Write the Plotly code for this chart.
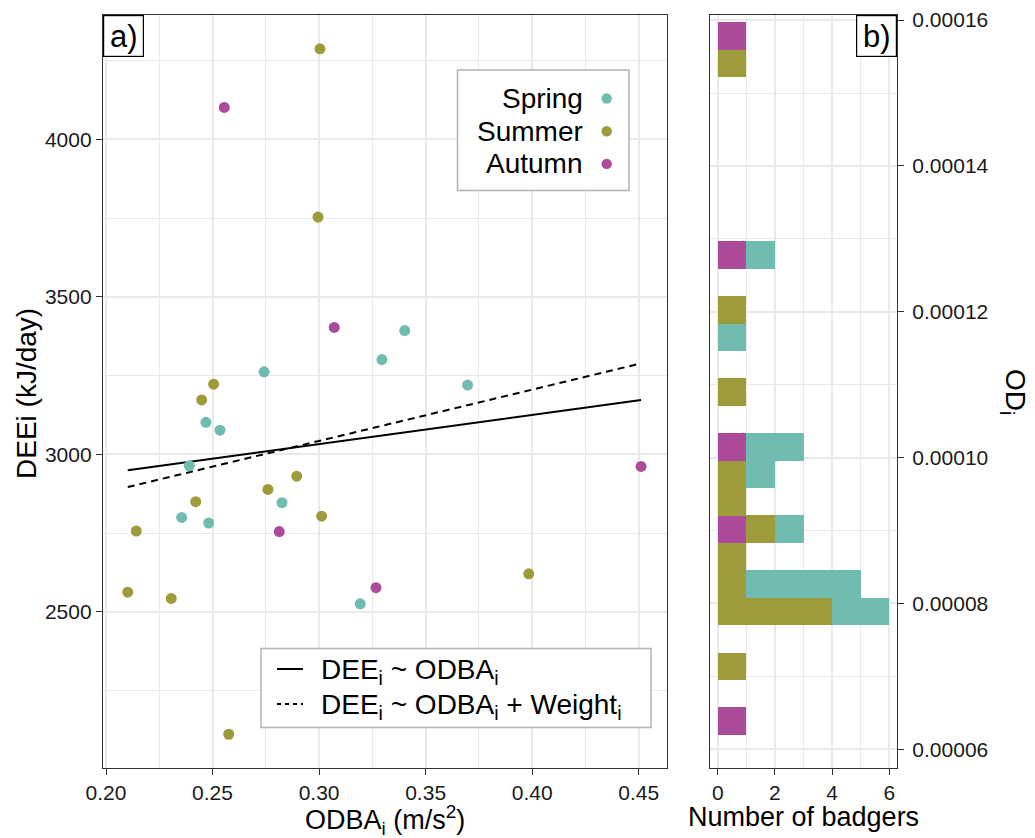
import plotly.graph_objects as go

W, H = 1035, 838
FONT = "Liberation Sans, Arial, Helvetica, sans-serif"

# ---------------- data ----------------
seasons = ["Spring", "Summer", "Autumn"]
season_colors = ["#70bcb0", "#9d9b3b", "#ac4a9b"]

spring_odba = [0.3402, 0.3295, 0.2742, 0.3697, 0.2469, 0.2535, 0.2391, 0.2826, 0.2355, 0.2482, 0.3193]
spring_dee = [3393, 3301, 3262, 3220, 3102, 3077, 2964, 2847, 2800, 2782, 2526]
summer_odba = [0.3004, 0.2995, 0.2505, 0.2449, 0.2895, 0.2760, 0.2421, 0.3012, 0.2142, 0.3984, 0.2102, 0.2306, 0.2576]
summer_dee = [4287, 3753, 3223, 3173, 2931, 2889, 2850, 2804, 2757, 2621, 2563, 2543, 2112]
autumn_odba = [0.2555, 0.3071, 0.2813, 0.4511, 0.3267]
autumn_dee = [4101, 3403, 2755, 2962, 2577]

fit_labels = ["DEE<sub>i</sub> ~ ODBA<sub>i</sub>",
              "DEE<sub>i</sub> ~ ODBA<sub>i</sub> + Weight<sub>i</sub>"]
fit_intercepts = [2755, 2554]
fit_slopes = [926, 1629]
fit_dashes = ["solid", "7px,5px"]

od_bin_centers = [0.00006388, 0.00007140, 0.00007891, 0.00008267, 0.00008643,
                  0.00009019, 0.00009394, 0.00009770, 0.00010146, 0.00010898,
                  0.00011649, 0.00012025, 0.00012777, 0.00015407, 0.00015783]
od_bin_width = 3.758e-6
spring_counts = [0, 0, 2, 4, 0, 1, 0, 1, 2, 0, 1, 0, 1, 0, 0]
summer_counts = [0, 1, 4, 1, 1, 1, 1, 1, 0, 1, 0, 1, 0, 1, 0]
autumn_counts = [1, 0, 0, 0, 0, 1, 0, 0, 1, 0, 0, 0, 1, 0, 1]

odba_ticks = [0.20, 0.25, 0.30, 0.35, 0.40, 0.45]
dee_ticks = [2500, 3000, 3500, 4000]
count_ticks = [0, 2, 4, 6]
od_ticks = [0.00006, 0.00008, 0.00010, 0.00012, 0.00014, 0.00016]

# ---------------- helpers ----------------
def px(x):
    return x / W

def py(y):
    return 1 - y / H

fig = go.Figure()

odba_sets = [spring_odba, summer_odba, autumn_odba]
dee_sets = [spring_dee, summer_dee, autumn_dee]

# regression lines
all_x = spring_odba + summer_odba + autumn_odba
x_lo, x_hi = min(all_x), max(all_x)
for b0, b1, d in zip(fit_intercepts, fit_slopes, fit_dashes):
    fig.add_trace(go.Scatter(
        x=[x_lo, x_hi], y=[b0 + b1 * x_lo, b0 + b1 * x_hi],
        mode="lines", line=dict(color="black", width=2, dash=d),
        xaxis="x", yaxis="y", showlegend=False, hoverinfo="skip"))

for name, col, xs, ys in zip(seasons, season_colors, odba_sets, dee_sets):
    fig.add_trace(go.Scatter(
        x=xs, y=ys, mode="markers", name=name,
        marker=dict(color=col, size=11, line=dict(width=0)),
        xaxis="x", yaxis="y", showlegend=False))

# stacked histogram (Autumn at base, then Summer, then Spring)
for name, col, counts in [("Autumn", season_colors[2], autumn_counts),
                          ("Summer", season_colors[1], summer_counts),
                          ("Spring", season_colors[0], spring_counts)]:
    fig.add_trace(go.Bar(
        x=counts, y=od_bin_centers, orientation="h", name=name,
        width=[od_bin_width] * len(od_bin_centers),
        marker=dict(color=col, line=dict(width=0)),
        xaxis="x2", yaxis="y2", showlegend=False))

GRID = "#e9e9e9"
axis_common = dict(
    automargin=False,
    showline=True, mirror=True, linecolor="#333333", linewidth=1.3,
    ticks="outside", ticklen=6, tickwidth=1.3, tickcolor="#333333",
    showgrid=True, gridcolor=GRID, gridwidth=2,
    zeroline=False,
    tickfont=dict(family=FONT, size=21, color="#1a1a1a"),
)
minor_common = dict(showgrid=True, gridcolor=GRID, gridwidth=1.3, ticks="")

ydom = [py(768), py(15)]

fig.update_layout(
    width=W, height=H,
    margin=dict(l=0, r=0, t=0, b=0, autoexpand=False),
    paper_bgcolor="white", plot_bgcolor="white",
    showlegend=False, barmode="stack", bargap=0,
    font=dict(family=FONT, color="black"),
    xaxis=dict(domain=[px(103), px(667)], range=[0.19859, 0.46328], anchor="y",
               tickmode="array", tickvals=odba_ticks, ticktext=[f"{v:.2f}" for v in odba_ticks],
               minor=dict(dtick=0.025, tick0=0.2, **minor_common),
               **axis_common),
    yaxis=dict(domain=ydom, range=[2004.9, 4394.4], anchor="x",
               tickmode="array", tickvals=dee_ticks, ticktext=[str(v) for v in dee_ticks],
               minor=dict(dtick=250, tick0=2250, **minor_common),
               **axis_common),
    xaxis2=dict(domain=[px(710), px(897)], range=[-0.27, 6.27], anchor="y2",
                tickmode="array", tickvals=count_ticks, ticktext=[str(v) for v in count_ticks],
                minor=dict(dtick=1, tick0=0, **minor_common),
                **axis_common),
    yaxis2=dict(domain=ydom, range=[0.00005744, 0.0001607], anchor="x2", side="right",
                tickmode="array", tickvals=od_ticks, ticktext=[f"{v:.5f}" for v in od_ticks],
                minor=dict(dtick=0.00001, tick0=0.00006, **minor_common),
                ticklabelstandoff=4,
                **axis_common),
)

shapes = []
annotations = []

def txt(x, y, text, size, xanchor="center", yanchor="middle", angle=0, **kw):
    annotations.append(dict(
        x=px(x), y=py(y), xref="paper", yref="paper", text=text, showarrow=False,
        xanchor=xanchor, yanchor=yanchor, textangle=angle,
        font=dict(family=FONT, size=size, color="black"), **kw))

# axis titles
txt(385, 820, "ODBA<sub>i</sub> (m/s<sup>2</sup>)", 27)
txt(26, 394, "DEEi (kJ/day)", 28, angle=-90)
txt(803.5, 817, "Number of badgers", 27)
txt(1013, 392, "OD<sub>i</sub>", 28, angle=90)

# panel labels
for x0, label in [(103, "a)"), (855.5, "b)")]:
    annotations.append(dict(
        x=px(x0), y=py(15), xref="paper", yref="paper", text=label, showarrow=False,
        xanchor="left", yanchor="top", width=39, height=40, align="center", valign="middle",
        bordercolor="black", borderwidth=1.2, borderpad=0, bgcolor="white",
        font=dict(family=FONT, size=31, color="black")))

# season legend (manual, markers at right of labels)
shapes.append(dict(type="rect", xref="paper", yref="paper",
                   x0=px(457.5), x1=px(629), y0=py(190.5), y1=py(70),
                   line=dict(color="#b3b3b3", width=1.5), fillcolor="white", layer="above"))
for i, (name, col) in enumerate(zip(seasons, season_colors)):
    yc = 98.5 + i * 32.7
    txt(585, yc, name, 28, xanchor="right")
    shapes.append(dict(type="circle", xref="paper", yref="paper",
                       x0=px(606.7 - 5.2), x1=px(606.7 + 5.2), y0=py(yc + 5.2), y1=py(yc - 5.2),
                       line=dict(width=0), fillcolor=col, layer="above"))

# fit legend (manual)
shapes.append(dict(type="rect", xref="paper", yref="paper",
                   x0=px(261), x1=px(651), y0=py(727.5), y1=py(648.5),
                   line=dict(color="#b3b3b3", width=1.5), fillcolor="white", layer="above"))
for i, (lab, d) in enumerate(zip(fit_labels, fit_dashes)):
    yc = 669 + i * 35
    shapes.append(dict(type="line", xref="paper", yref="paper",
                       x0=px(277), x1=px(303), y0=py(yc), y1=py(yc),
                       line=dict(color="black", width=2, dash=("solid" if d == "solid" else "4px,4px")),
                       layer="above"))
    txt(319, yc + 2, lab, 28, xanchor="left")

fig.update_layout(shapes=shapes, annotations=annotations)

fig.write_html("out.html")
